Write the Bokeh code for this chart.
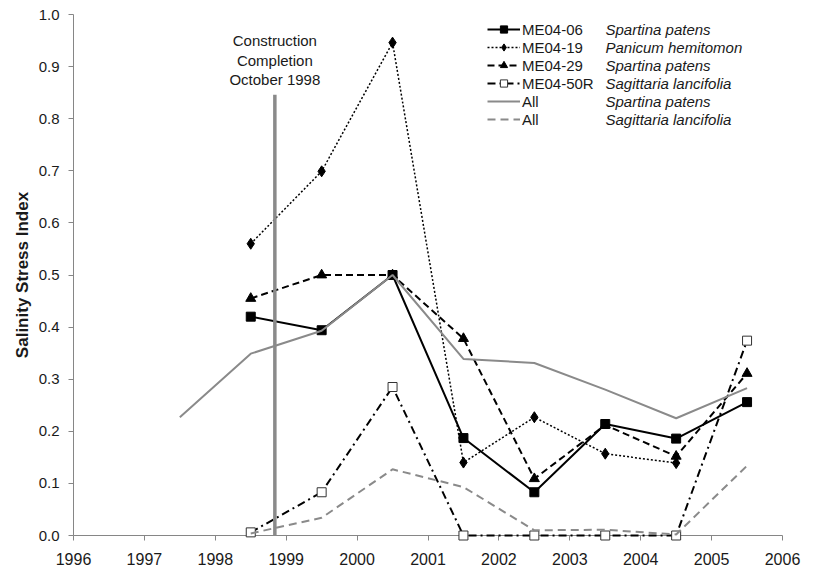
import math

from bokeh.plotting import figure
from bokeh.models import (Legend, LegendItem, Label, FixedTicker,
                          PrintfTickFormatter, Range1d)
from bokeh.embed import file_html
from bokeh.resources import INLINE

nan = float("nan")

# Sampling years (mid-year values)
years = [1997.5, 1998.5, 1999.5, 2000.5, 2001.5, 2002.5, 2003.5, 2004.5, 2005.5]

# Salinity stress index per station / species
me04_06 = [nan, 0.420, 0.394, 0.500, 0.187, 0.083, 0.214, 0.186, 0.256]
me04_19 = [nan, 0.560, 0.699, 0.946, 0.140, 0.227, 0.157, 0.139, nan]
me04_29 = [nan, 0.455, 0.500, 0.500, 0.378, 0.109, 0.212, 0.152, 0.311]
me04_50r = [nan, 0.006, 0.083, 0.285, 0.000, 0.000, 0.000, 0.000, 0.374]
all_spartina = [0.227, 0.349, 0.393, 0.500, 0.339, 0.331, 0.280, 0.225, 0.283]
all_sagittaria = [nan, 0.004, 0.034, 0.127, 0.093, 0.010, 0.011, 0.002, 0.134]

station_labels = ["ME04-06", "ME04-19", "ME04-29", "ME04-50R", "All", "All"]
species_labels = ["Spartina patens", "Panicum hemitomon", "Spartina patens",
                  "Sagittaria lancifolia", "Spartina patens", "Sagittaria lancifolia"]

construction_year = 1998.84
construction_top = 0.846
construction_text = "Construction\nCompletion\nOctober 1998"

x_ticks = list(range(1996, 2007))
y_ticks = [round(0.1 * i, 1) for i in range(11)]

FONT = "Liberation Sans"
AXIS_GREY = "#868686"
LINE_GREY = "#8a8a8a"
TEXT = "#1a1a1a"

p = figure(width=813, height=571, output_backend="svg", toolbar_location=None,
           x_range=Range1d(1996, 2006), y_range=Range1d(0, 1.0),
           min_border_left=73, min_border_right=31,
           min_border_top=14, min_border_bottom=36)
p.background_fill_color = "white"
p.border_fill_color = "white"
p.outline_line_color = None
p.grid.visible = False

# Axes
p.xaxis.ticker = FixedTicker(ticks=x_ticks)
p.xaxis.formatter = PrintfTickFormatter(format="%d")
p.yaxis.ticker = FixedTicker(ticks=y_ticks)
p.yaxis.formatter = PrintfTickFormatter(format="%.1f")
for ax in (p.xaxis, p.yaxis):
    ax.axis_line_color = AXIS_GREY
    ax.axis_line_width = 1
    ax.major_tick_line_color = AXIS_GREY
    ax.major_tick_out = 5
    ax.major_tick_in = 0
    ax.minor_tick_line_color = None
    ax.major_label_text_font = FONT
    ax.major_label_text_font_size = "15px"
    ax.major_label_text_color = TEXT
p.xaxis.major_label_text_font_size = "16px"
p.xaxis.major_label_standoff = 12
p.yaxis.major_label_standoff = 9
p.yaxis.axis_label = "Salinity Stress Index"
p.yaxis.axis_label_text_font = FONT
p.yaxis.axis_label_text_font_style = "bold"
p.yaxis.axis_label_text_font_size = "17px"
p.yaxis.axis_label_text_color = TEXT
p.yaxis.axis_label_standoff = 4

# Series (drawn at overlay level so markers sitting on the axis are not cut off)
TOP = "overlay"
l1 = p.line(years, me04_06, line_color="black", line_width=2, level=TOP)
m1 = p.scatter(years, me04_06, marker="square", size=9, color="black", level=TOP)

l2 = p.line(years, me04_19, line_color="black", line_width=1.5, line_dash="2 2", level=TOP)
m2 = p.scatter(years, me04_19, marker="diamond", size=11, color="black", level=TOP)

l3 = p.line(years, me04_29, line_color="black", line_width=2, line_dash="7 4", level=TOP)
m3 = p.scatter(years, me04_29, marker="triangle", size=10, color="black", level=TOP)

l4 = p.line(years, me04_50r, line_color="black", line_width=2, line_dash="8 4 2 4", level=TOP)
m4 = p.scatter(years, me04_50r, marker="square", size=9, fill_color="white",
               line_color="#333333", line_width=1, level=TOP)

l5 = p.line(years, all_spartina, line_color=LINE_GREY, line_width=2, level=TOP)
l6 = p.line(years, all_sagittaria, line_color=LINE_GREY, line_width=2,
            line_dash="8 5", level=TOP)

# Construction completion marker
p.segment(x0=[construction_year], y0=[0], x1=[construction_year], y1=[construction_top],
          line_color=LINE_GREY, line_width=3.5, level=TOP)
p.add_layout(Label(x=construction_year, y=0.966, text=construction_text,
                   text_align="center", text_baseline="top",
                   text_font=FONT, text_font_size="15px", text_color=TEXT,
                   text_line_height=1.15))

# Legend: station names with line samples, species names in italics beside them
ROW = 18
legend_top_px = 19.8      # from the top of the canvas
frame_bottom_px = 535
px_per_unit = 521.0
px_per_year = 70.9
frame_left_px = 73

legend = Legend(
    items=[LegendItem(label=station_labels[0], renderers=[l1, m1]),
           LegendItem(label=station_labels[1], renderers=[l2, m2]),
           LegendItem(label=station_labels[2], renderers=[l3, m3]),
           LegendItem(label=station_labels[3], renderers=[l4, m4]),
           LegendItem(label=station_labels[4], renderers=[l5]),
           LegendItem(label=station_labels[5], renderers=[l6])],
    location=(414, round(frame_bottom_px - legend_top_px - ROW * 6)),
    padding=0, margin=0, spacing=0,
    glyph_width=33, glyph_height=ROW, label_height=ROW, label_standoff=2,
    label_text_font=FONT, label_text_font_size="15px", label_text_color=TEXT,
    border_line_color=None, background_fill_alpha=0,
)
p.add_layout(legend)

species_x = 1996 + (605 - frame_left_px) / px_per_year
for i, name in enumerate(species_labels):
    yc = legend_top_px + ROW * (i + 0.5)
    p.add_layout(Label(x=species_x, y=(frame_bottom_px - yc) / px_per_unit, text=name,
                       text_align="left", text_baseline="middle",
                       text_font=FONT, text_font_size="15px",
                       text_font_style="italic", text_color=TEXT))

open("out.html", "w").write(file_html(p, INLINE))
